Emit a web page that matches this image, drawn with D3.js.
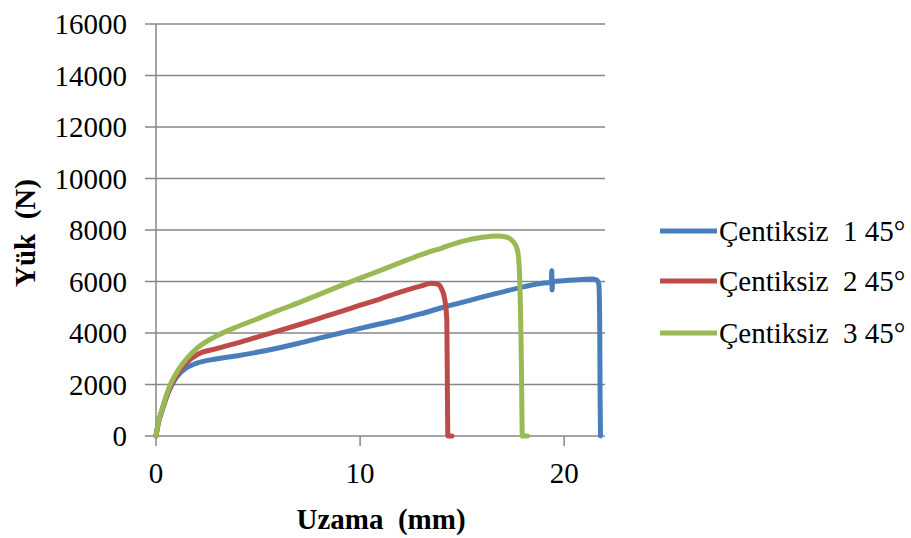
<!DOCTYPE html>
<html>
<head>
<meta charset="utf-8">
<script src="https://cdn.jsdelivr.net/npm/d3@7"></script>
<style>
  body { margin: 0; background: #fff; }
</style>
</head>
<body>
<div id="chart"></div>
<script>
// elongation (mm) and load (N)
const x1 = [0, 0.1, 0.3, 0.65, 1, 1.5, 2, 3, 4, 5, 6, 7, 8, 9, 10, 11, 12, 13, 14, 15, 16, 17, 18, 19, 19.37, 19.39, 19.41, 19.43, 20, 21, 21.4, 21.6, 21.7, 21.74, 21.76, 21.78];
const y1 = [0, 450, 1000, 1780, 2280, 2650, 2830, 3000, 3120, 3260, 3420, 3600, 3800, 3990, 4180, 4360, 4540, 4750, 4980, 5190, 5400, 5600, 5790, 5940, 5960, 6420, 5670, 5990, 6030, 6090, 6100, 6050, 5880, 4500, 1500, 0];

const x2 = [0, 0.1, 0.3, 0.65, 1, 1.5, 2, 3, 4, 5, 6, 7, 8, 9, 10, 11, 12, 13, 13.5, 13.8, 14.0, 14.15, 14.25, 14.28, 14.3, 14.5];
const y2 = [0, 460, 1020, 1820, 2350, 2850, 3150, 3400, 3620, 3850, 4080, 4320, 4570, 4820, 5080, 5330, 5600, 5830, 5930, 5900, 5700, 5300, 4500, 1500, 0, 0];

const x3 = [0, 0.1, 0.3, 0.65, 1, 1.5, 2, 3, 4, 5, 6, 7, 8, 9, 10, 11, 12, 13, 14, 15, 16, 16.7, 17.2, 17.5, 17.7, 17.8, 17.9, 17.95, 18.2];
const y3 = [0, 470, 1050, 1900, 2450, 3000, 3400, 3900, 4250, 4560, 4880, 5180, 5500, 5820, 6130, 6430, 6740, 7040, 7300, 7560, 7720, 7770, 7720, 7550, 7250, 6500, 3000, 0, 0];

const seriesNames = ["Çentiksiz  1 45°", "Çentiksiz  2 45°", "Çentiksiz  3 45°"];
const seriesColors = ["#4a7ebb", "#be4b48", "#98b954"];
const xTicks = [0, 10, 20];
const yTicks = [0, 2000, 4000, 6000, 8000, 10000, 12000, 14000, 16000];

const width = 911, height = 538;
const margin = { left: 156, right: 306, top: 24, bottom: 102 };
const font = '"Liberation Serif", "Times New Roman", serif';

const svg = d3.select('#chart').append('svg')
  .attr('width', width)
  .attr('height', height)
  .attr('font-family', font)
  .style('font-family', font);

const x = d3.scaleLinear().domain([0, 22]).range([margin.left, width - margin.right]);
const y = d3.scaleLinear().domain([0, 16000]).range([height - margin.bottom, margin.top]);

// gridlines
svg.append('g')
  .selectAll('line')
  .data(yTicks)
  .enter().append('line')
  .attr('x1', margin.left - 11)
  .attr('x2', x(22))
  .attr('y1', d => y(d))
  .attr('y2', d => y(d))
  .style('stroke', '#878787')
  .style('stroke-width', 1.5);

// y axis line
svg.append('line')
  .attr('x1', x(0)).attr('x2', x(0))
  .attr('y1', y(16000)).attr('y2', y(0) + 10)
  .style('stroke', '#878787')
  .style('stroke-width', 1.5);

// x tick marks
svg.append('g')
  .selectAll('line')
  .data(xTicks.slice(1))
  .enter().append('line')
  .attr('x1', d => x(d)).attr('x2', d => x(d))
  .attr('y1', y(0)).attr('y2', y(0) + 10)
  .style('stroke', '#878787')
  .style('stroke-width', 1.5);

// tick labels
svg.append('g')
  .selectAll('text')
  .data(yTicks)
  .enter().append('text')
  .attr('x', 127)
  .attr('y', d => y(d) + 10)
  .attr('text-anchor', 'end')
  .style('font-family', font)
  .style('font-size', '29px')
  .text(d => d);

svg.append('g')
  .selectAll('text')
  .data(xTicks)
  .enter().append('text')
  .attr('x', d => x(d))
  .attr('y', 483)
  .attr('text-anchor', 'middle')
  .style('font-family', font)
  .style('font-size', '29px')
  .text(d => d);

// axis titles
svg.append('text')
  .attr('x', 381)
  .attr('y', 529)
  .attr('text-anchor', 'middle')
  .style('font-family', font)
  .style('font-size', '29px')
  .style('font-weight', 'bold')
  .style('white-space', 'pre')
  .text('Uzama  (mm)');

svg.append('text')
  .attr('transform', 'translate(35, 233) rotate(-90)')
  .attr('text-anchor', 'middle')
  .style('font-family', font)
  .style('font-size', '29px')
  .style('font-weight', 'bold')
  .style('white-space', 'pre')
  .text('Yük  (N)');

// curves
const line = d3.line()
  .x(d => x(d[0]))
  .y(d => y(d[1]))
  .curve(d3.curveMonotoneX);

[[x1, y1], [x2, y2], [x3, y3]].forEach((s, i) => {
  svg.append('path')
    .datum(d3.zip(s[0], s[1]))
    .attr('d', line)
    .style('fill', 'none')
    .style('stroke', seriesColors[i])
    .style('stroke-width', 5)
    .style('stroke-linejoin', 'round')
    .style('stroke-linecap', 'round');
});

// legend
const legendY = [231, 281, 333];
const lg = svg.append('g');
seriesNames.forEach((name, i) => {
  lg.append('line')
    .attr('x1', 660).attr('x2', 717)
    .attr('y1', legendY[i]).attr('y2', legendY[i])
    .style('stroke', seriesColors[i])
    .style('stroke-width', 5);
  lg.append('text')
    .attr('x', 719)
    .attr('y', legendY[i] + 10)
    .style('font-family', font)
    .style('font-size', '29px')
    .style('white-space', 'pre')
    .text(name);
});
</script>
</body>
</html>
